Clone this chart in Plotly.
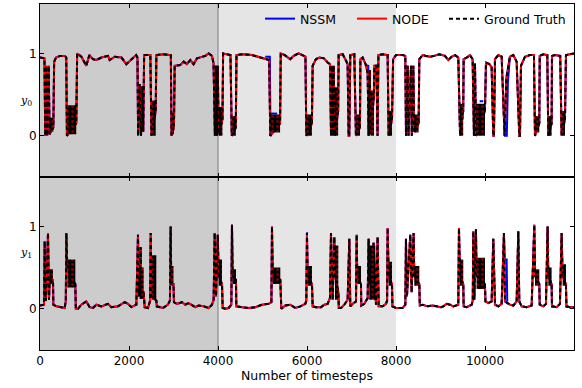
import plotly.graph_objects as go
from plotly.subplots import make_subplots

# ---------------- data ----------------
# ground truth y0 : [timestep, value]
y0_truth = [
    [0, 0.95], [100, 0.94], [118, 0.0], [140, 0.85], [162, 0.0], [195, 0.85], [215, 0.02], [300, 0.1],
    [318, 0.9], [360, 0.95], [450, 0.97], [560, 0.97], [590, 0.95], [605, 0.0], [815, 0.15], [835, 1.0],
    [930, 0.96], [1000, 0.9], [1040, 0.85], [1110, 0.98], [1190, 0.93], [1265, 0.92], [1380, 0.95],
    [1530, 0.97], [1565, 0.92], [1680, 0.96], [1830, 0.95], [1940, 0.87], [2050, 0.93], [2160, 0.98],
    [2190, 0.95], [2205, 0.0], [2240, 0.63], [2270, 0.0], [2300, 0.6], [2320, 0.05], [2340, 0.98],
    [2480, 0.98], [2505, 0.0], [2600, 0.3], [2615, 0.98], [2770, 0.99], [2940, 0.98], [2955, 0.0],
    [3010, 0.1], [3026, 0.85], [3150, 0.86], [3230, 0.9], [3300, 0.87], [3378, 0.92], [3450, 0.87],
    [3528, 0.94], [3715, 0.97], [3790, 1.0], [3865, 0.97], [3900, 0.88], [3930, 0.0], [3955, 0.85],
    [3975, 0.0], [3995, 0.85], [4015, 0.02], [4100, 0.2], [4115, 1.0], [4200, 0.99], [4280, 0.98],
    [4310, 0.0], [4400, 0.1], [4415, 0.98], [4550, 0.99], [4764, 0.98], [4900, 0.96], [5063, 0.94],
    [5150, 0.92], [5175, 0.0], [5395, 0.15], [5410, 1.0], [5500, 0.98], [5624, 0.93], [5700, 0.97],
    [5813, 1.0], [5900, 0.98], [5965, 0.96], [5985, 0.0], [6110, 0.15], [6127, 0.85], [6200, 0.93],
    [6277, 0.95], [6380, 0.94], [6464, 0.89], [6517, 0.87], [6540, 0.0], [6560, 0.85], [6580, 0.0],
    [6600, 0.85], [6620, 0.0], [6700, 0.3], [6711, 0.98], [6801, 0.99], [6870, 0.92], [6913, 0.87],
    [6936, 0.0], [6950, 0.0], [6973, 0.98], [7063, 0.99], [7100, 0.0], [7190, 0.1], [7200, 0.93],
    [7250, 0.95], [7325, 0.86], [7363, 0.76], [7385, 0.0], [7410, 0.8], [7430, 0.02], [7505, 0.5],
    [7515, 0.85], [7560, 0.85], [7585, 0.0], [7605, 0.98], [7700, 0.99], [7812, 0.98], [7835, 0.0],
    [7910, 0.2], [7935, 0.93], [8000, 0.98], [8150, 0.98], [8209, 0.97], [8225, 0.0], [8262, 0.85],
    [8280, 0.0], [8337, 0.85], [8355, 0.0], [8389, 0.85], [8410, 0.05], [8509, 0.15], [8524, 0.93],
    [8600, 0.98], [8673, 0.97], [8770, 0.96], [8860, 0.97], [8973, 0.99], [9100, 0.97], [9175, 0.92],
    [9250, 0.96], [9325, 0.98], [9400, 0.95], [9440, 0.0], [9510, 0.3], [9520, 0.93], [9587, 0.95],
    [9662, 0.98], [9722, 0.93], [9752, 0.0], [9775, 0.88], [9797, 0.0], [9999, 0.3], [10022, 0.89],
    [10097, 0.87], [10149, 0.83], [10186, 0.0], [10201, 0.0], [10224, 0.93], [10299, 0.98],
    [10374, 0.96], [10426, 0.0], [10440, 0.0], [10480, 0.7], [10560, 0.96], [10636, 0.98],
    [10711, 0.9], [10771, 0.0], [10786, 0.0], [10808, 0.85], [10898, 0.96], [11010, 0.98],
    [11100, 0.98], [11123, 0.0], [11220, 0.15], [11230, 0.97], [11310, 0.99], [11400, 0.98],
    [11422, 0.0], [11497, 0.15], [11505, 0.97], [11572, 0.98], [11690, 0.97], [11722, 0.0],
    [11797, 0.2], [11819, 0.98], [11947, 1.0], [12000, 1.0],
]

# ground truth y1 : [timestep, value]
y1_truth = [
    [0, 0.04], [90, 0.05], [105, 0.82], [120, 0.1], [135, 0.11], [180, 0.92], [202, 0.11], [217, 0.35],
    [292, 0.35], [300, 0.05], [367, 0.03], [554, 0.01], [580, 0.1], [592, 0.92], [614, 0.5], [794, 0.3],
    [805, 0.0], [854, 0.0], [929, 0.05], [1041, 0.09], [1116, 0.02], [1191, 0.01], [1266, 0.05],
    [1378, 0.03], [1528, 0.06], [1603, 0.02], [1753, 0.03], [1902, 0.08], [1977, 0.06], [2052, 0.02],
    [2165, 0.05], [2202, 0.9], [2225, 0.15], [2262, 0.75], [2280, 0.2], [2330, 0.2], [2337, 0.05],
    [2352, 0.02], [2427, 0.01], [2475, 0.1], [2487, 0.92], [2510, 0.15], [2614, 0.1], [2625, 0.03],
    [2764, 0.01], [2876, 0.05], [2920, 0.1], [2936, 1.0], [2950, 0.3], [3000, 0.3], [3010, 0.08],
    [3078, 0.06], [3191, 0.08], [3266, 0.05], [3340, 0.07], [3415, 0.04], [3490, 0.02], [3565, 0.04],
    [3678, 0.03], [3790, 0.01], [3865, 0.05], [3902, 0.11], [3925, 0.92], [3955, 0.15], [3995, 0.9],
    [4015, 0.4], [4090, 0.3], [4105, 0.01], [4164, 0.0], [4239, 0.01], [4300, 0.05], [4314, 1.02],
    [4330, 0.4], [4404, 0.35], [4412, 0.03], [4539, 0.02], [4689, 0.01], [4839, 0.02], [4988, 0.05],
    [5138, 0.06], [5200, 0.08], [5213, 1.0], [5230, 0.4], [5400, 0.35], [5423, 0.0], [5513, 0.04],
    [5625, 0.05], [5737, 0.01], [5850, 0.03], [5962, 0.06], [5985, 0.1], [5999, 0.92], [6015, 0.4],
    [6112, 0.3], [6127, 0.03], [6202, 0.02], [6314, 0.02], [6389, 0.05], [6464, 0.06], [6516, 0.13],
    [6539, 0.92], [6576, 0.11], [6614, 0.87], [6630, 0.4], [6704, 0.2], [6715, 0.01], [6763, 0.01],
    [6838, 0.05], [6913, 0.11], [6951, 0.85], [6973, 0.03], [7026, 0.06], [7101, 0.09], [7116, 0.9],
    [7130, 0.4], [7213, 0.3], [7220, 0.04], [7288, 0.06], [7363, 0.13], [7385, 0.85], [7400, 0.3],
    [7497, 0.8], [7535, 0.2], [7550, 0.05], [7587, 0.87], [7610, 0.03], [7700, 0.03], [7775, 0.06],
    [7800, 0.1], [7812, 0.98], [7835, 0.4], [7910, 0.3], [7920, 0.03], [7999, 0.01], [8149, 0.01],
    [8210, 0.05], [8224, 0.85], [8246, 0.15], [8321, 0.9], [8351, 0.2], [8396, 0.92], [8411, 0.4],
    [8524, 0.3], [8535, 0.04], [8599, 0.05], [8711, 0.03], [8823, 0.04], [8936, 0.03], [9010, 0.02],
    [9063, 0.03], [9138, 0.06], [9213, 0.05], [9288, 0.03], [9400, 0.05], [9415, 0.98], [9437, 0.4],
    [9512, 0.3], [9520, 0.03], [9587, 0.02], [9700, 0.05], [9725, 0.1], [9737, 0.94], [9760, 0.11],
    [9797, 0.97], [9810, 0.4], [9999, 0.3], [10010, 0.09], [10074, 0.07], [10149, 0.09],
    [10186, 0.85], [10224, 0.05], [10299, 0.03], [10374, 0.06], [10426, 0.92], [10449, 0.09],
    [10561, 0.05], [10636, 0.04], [10711, 0.09], [10748, 0.94], [10771, 0.09], [10823, 0.03],
    [10935, 0.02], [11048, 0.04], [11108, 1.02], [11125, 0.4], [11220, 0.3], [11230, 0.05],
    [11310, 0.03], [11370, 0.06], [11407, 1.0], [11422, 0.4], [11497, 0.3], [11505, 0.03],
    [11610, 0.02], [11684, 0.06], [11722, 0.92], [11744, 0.4], [11819, 0.3], [11830, 0.03],
    [11909, 0.02], [12000, 0.02],
]

# fast-oscillation bursts (dense blocks): [start, end, low, high]
y0_bursts = [
    [215, 300, 0.05, 0.22], [605, 815, 0.02, 0.37], [2505, 2600, 0.0, 0.43], [2955, 3010, 0.02, 0.28],
    [4015, 4100, 0.0, 0.35], [4310, 4400, 0.0, 0.24], [5175, 5395, 0.04, 0.26], [5985, 6110, 0.0, 0.26],
    [6620, 6700, 0.0, 0.59], [7100, 7190, 0.0, 0.26], [7430, 7505, 0.0, 0.55], [7835, 7910, 0.0, 0.3],
    [8410, 8509, 0.04, 0.26], [9440, 9510, 0.0, 0.39], [9797, 9999, 0.0, 0.39], [11123, 11220, 0.04, 0.24],
    [11422, 11497, 0.0, 0.24], [11722, 11797, 0.0, 0.3],
]
y1_bursts = [
    [217, 292, 0.3, 0.48], [614, 794, 0.26, 0.6], [2240, 2330, 0.12, 0.5], [2510, 2614, 0.11, 0.65],
    [2950, 3000, 0.28, 0.52], [4015, 4090, 0.28, 0.6], [4330, 4404, 0.3, 0.48], [5230, 5400, 0.3, 0.5],
    [6015, 6112, 0.28, 0.52], [6630, 6704, 0.11, 0.77], [7130, 7213, 0.3, 0.52], [7400, 7535, 0.11, 0.77],
    [7835, 7910, 0.28, 0.57], [8411, 8524, 0.28, 0.52], [9437, 9512, 0.28, 0.6], [9810, 9999, 0.24, 0.62],
    [11125, 11220, 0.28, 0.48], [11422, 11497, 0.28, 0.5], [11744, 11819, 0.28, 0.54],
]

# places where the NSSM prediction visibly departs from the truth
nssm_y0_dev = [
    [[5063, 0.96], [5165, 0.96], [5180, 0.0]],
    [[5180, 0.27], [5330, 0.27]],
    [[7300, 0.86], [7375, 0.85], [7390, 0.0]],
    [[9880, 0.42], [9960, 0.42]],
    [[10426, 0.0], [10490, 0.0], [10515, 0.65], [10560, 0.96]],
]
nssm_y1_dev = [
    [[10426, 0.92], [10440, 0.6], [10486, 0.6], [10500, 0.09]],
    [[5999, 0.92], [6010, 0.93]],
]

series_names = ["NSSM", "NODE", "Ground Truth"]
legend_widths = [47, 47, 85]
x_ticks = [0, 2000, 4000, 6000, 8000, 10000]
x_tick_labels = ["0", "2000", "4000", "6000", "8000", "10000"]
y_ticks = [0, 1]
regions = [[0, 4000, "#cccccc"], [4000, 8000, "#e5e5e5"]]


def unzip(pairs):
    return [p[0] for p in pairs], [p[1] for p in pairs]


def burst_poly(bursts):
    xs, ys = [], []
    for t0, t1, lo, hi in bursts:
        xs += [t0, t1, t1, t0, t0, None]
        ys += [lo, lo, hi, hi, lo, None]
    return xs, ys


def segs(seglist):
    xs, ys = [], []
    for seg in seglist:
        for t, v in seg:
            xs.append(t)
            ys.append(v)
        xs.append(None)
        ys.append(None)
    return xs, ys


fig = make_subplots(rows=2, cols=1, shared_xaxes=True, vertical_spacing=0)

FONT = "DejaVu Sans"
for row, truth, bursts, dev in [(1, y0_truth, y0_bursts, nssm_y0_dev),
                                (2, y1_truth, y1_bursts, nssm_y1_dev)]:
    tx, tv = unzip(truth)
    bx, by = burst_poly(bursts)
    dx, dy = segs(dev)
    show = row == 1
    fig.add_trace(go.Scatter(x=tx, y=tv, mode="lines", name=series_names[0], legendwidth=legend_widths[0],
                             line=dict(color="blue", width=2), showlegend=show), row=row, col=1)
    fig.add_trace(go.Scatter(x=dx, y=dy, mode="lines", showlegend=False,
                             line=dict(color="blue", width=2)), row=row, col=1)
    fig.add_trace(go.Scatter(x=tx, y=tv, mode="lines", name=series_names[1], legendwidth=legend_widths[1],
                             line=dict(color="red", width=2), showlegend=show), row=row, col=1)
    fig.add_trace(go.Scatter(x=tx, y=tv, mode="lines", name=series_names[2], legendwidth=legend_widths[2],
                             line=dict(color="black", width=2, dash="4px,3px"), showlegend=show),
                  row=row, col=1)
    fig.add_trace(go.Scatter(x=bx, y=by, mode="lines", showlegend=False, fill="toself",
                             line=dict(width=0, color="black"), fillcolor="black",
                             fillpattern=dict(shape=".", fgcolor="red", bgcolor="black",
                                              size=5, solidity=0.25)),
                  row=row, col=1)
    yref = "y domain" if row == 1 else "y2 domain"
    xref = "x" if row == 1 else "x2"
    for x0, x1, c in regions:
        fig.add_shape(type="rect", x0=x0, x1=x1, y0=0, y1=1, xref=xref, yref=yref,
                      fillcolor=c, line=dict(width=0), layer="below")
    fig.add_shape(type="line", x0=4000, x1=4000, y0=0, y1=1, xref=xref, yref=yref,
                  line=dict(color="#7f7f7f", width=1), layer="below")

axis_common = dict(showgrid=False, zeroline=False, showline=True, linecolor="black", linewidth=1,
                   mirror="ticks", ticks="inside", ticklen=4, tickcolor="black",
                   tickfont=dict(family=FONT, size=12, color="black"))
fig.update_xaxes(range=[0, 12000], tickvals=x_ticks, ticktext=x_tick_labels, **axis_common)
fig.update_xaxes(showticklabels=False, row=1, col=1)
fig.update_xaxes(title=dict(text="Number of timesteps", font=dict(family=FONT, size=12.5, color="black"),
                            standoff=0), row=2, col=1)
fig.update_yaxes(range=[-0.5, 1.6], tickvals=y_ticks, **axis_common)

fig.add_annotation(text="<i>y</i><sub>0</sub>", xref="paper", yref="paper", x=-0.041, y=0.745,
                   showarrow=False, font=dict(family="DejaVu Serif", size=11, color="black"))
fig.add_annotation(text="<i>y</i><sub>1</sub>", xref="paper", yref="paper", x=-0.041, y=0.255,
                   showarrow=False, font=dict(family="DejaVu Serif", size=11, color="black"))

fig.update_layout(
    width=582, height=388,
    margin=dict(l=40, r=8, t=4, b=38, autoexpand=False),
    paper_bgcolor="white", plot_bgcolor="white",
    font=dict(family=FONT, size=12, color="black"),
    legend=dict(orientation="h", x=0.412, y=1.0, xanchor="left", yanchor="top",
                bgcolor="rgba(0,0,0,0)", font=dict(family=FONT, size=12.5, color="black"),
                itemwidth=30),
)

fig.write_html("out.html")
